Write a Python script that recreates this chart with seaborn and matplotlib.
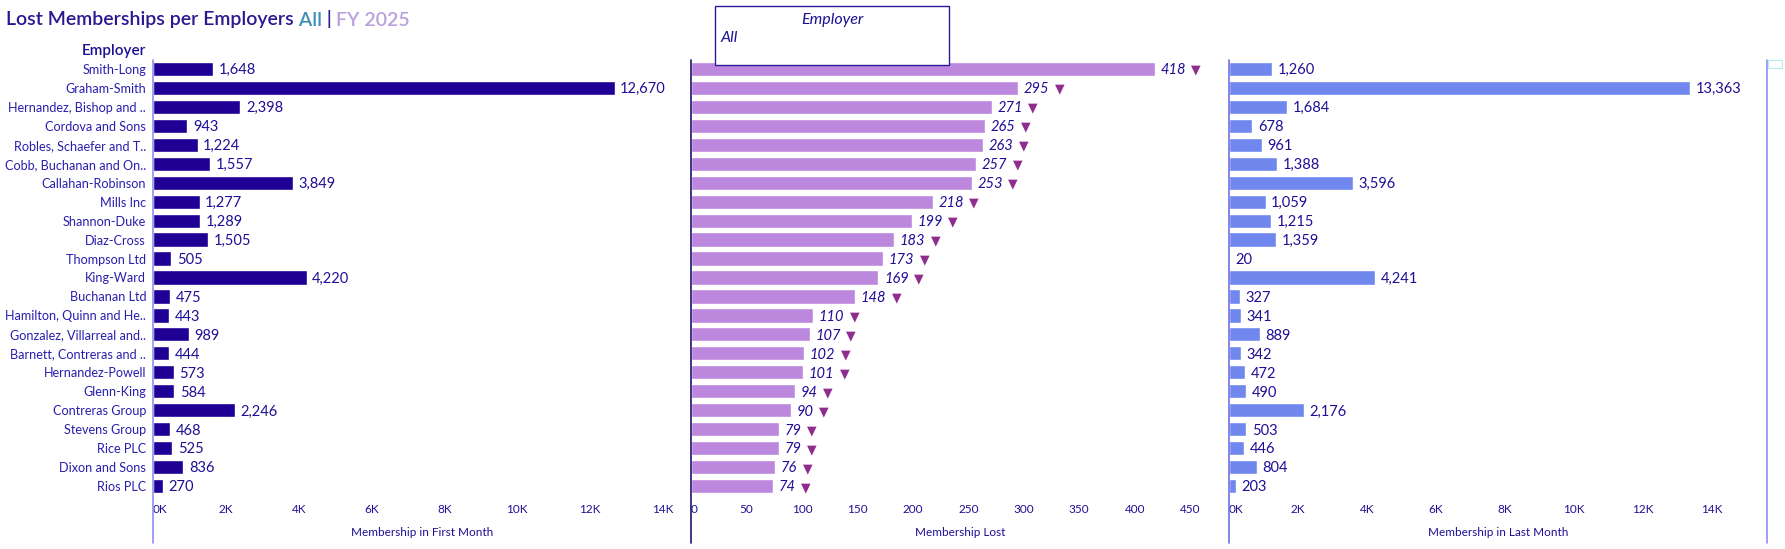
import pandas as pd
import seaborn as sns
import matplotlib
matplotlib.use("Agg")
import matplotlib.pyplot as plt
from matplotlib.lines import Line2D
from matplotlib.patches import Rectangle
from matplotlib.ticker import FixedLocator

sns.set_theme(style="white")
plt.rcParams['font.family'] = ['Lato', 'DejaVu Sans']

employers = [
    "Smith-Long", "Graham-Smith", "Hernandez, Bishop and ..", "Cordova and Sons",
    "Robles, Schaefer and T..", "Cobb, Buchanan and On..", "Callahan-Robinson",
    "Mills Inc", "Shannon-Duke", "Diaz-Cross", "Thompson Ltd", "King-Ward",
    "Buchanan Ltd", "Hamilton, Quinn and He..", "Gonzalez, Villarreal and..",
    "Barnett, Contreras and ..", "Hernandez-Powell", "Glenn-King", "Contreras Group",
    "Stevens Group", "Rice PLC", "Dixon and Sons", "Rios PLC",
]
first_month = [1648, 12670, 2398, 943, 1224, 1557, 3849, 1277, 1289, 1505, 505, 4220,
               475, 443, 989, 444, 573, 584, 2246, 468, 525, 836, 270]
lost = [418, 295, 271, 265, 263, 257, 253, 218, 199, 183, 173, 169,
        148, 110, 107, 102, 101, 94, 90, 79, 79, 76, 74]
last_month = [1260, 13363, 1684, 678, 961, 1388, 3596, 1059, 1215, 1359, 20, 4241,
              327, 341, 889, 342, 472, 490, 2176, 503, 446, 804, 203]

k_ticks = [0, 2000, 4000, 6000, 8000, 10000, 12000, 14000]
k_labels = ["0K", "2K", "4K", "6K", "8K", "10K", "12K", "14K"]
lost_ticks = [0, 50, 100, 150, 200, 250, 300, 350, 400, 450]

df = pd.DataFrame({"Employer": employers, "first": first_month,
                   "lost": lost, "last": last_month})

W, H = 1785, 549
TXT = "#1f0f95"
ROW_TXT = "#2a1eae"
fig = plt.figure(figsize=(W / 100, H / 100), dpi=100)


def px_axes(x0, x1, y0, y1):
    return fig.add_axes([x0 / W, 1 - y1 / H, (x1 - x0) / W, (y1 - y0) / H])


def fig_line(x, y0, y1, color):
    fig.add_artist(Line2D([x / W, x / W], [1 - y0 / H, 1 - y1 / H],
                          transform=fig.transFigure, color=color, lw=1.2))


top, bottom = 59.5, 495.5
panels = [
    ("first", 153, 691, 14770, "#1f0094", "Membership in First Month", k_ticks, k_labels),
    ("lost", 691, 1229, 485, "#bb88dd", "Membership Lost", lost_ticks, [str(t) for t in lost_ticks]),
    ("last", 1229, 1767, 15600, "#7087ee", "Membership in Last Month", k_ticks, k_labels),
]

axes = []
for col, x0, x1, xmax, color, xlabel, ticks, labels in panels:
    ax = px_axes(x0, x1, top, bottom)
    sns.barplot(data=df, y="Employer", x=col, color=color, width=0.75,
                orient="h", ax=ax, saturation=1)
    ax.set_xlim(0, xmax)
    ax.set_ylim(len(employers) - 0.5, -0.5)
    ax.xaxis.set_major_locator(FixedLocator(ticks))
    ax.set_xticklabels(labels)
    ax.get_xticklabels()[0].set_horizontalalignment("left")
    ax.tick_params(axis="x", length=0, pad=6, labelsize=8.5, labelcolor=TXT)
    ax.set_xlabel(xlabel, color=TXT, fontsize=8.5, labelpad=9)
    ax.set_ylabel("")
    for s in ax.spines.values():
        s.set_visible(False)
    ax.patch.set_alpha(0)
    axes.append(ax)

    for i, v in enumerate(df[col]):
        if col == "lost":
            t = ax.annotate(f"{v:,}", xy=(v, i), xytext=(4, -1), textcoords="offset points",
                            va="center", ha="left", fontsize=10.5, color=TXT,
                            fontstyle="italic")
            ax.annotate("\u25bc", xy=(1, 0.5), xycoords=t, xytext=(4, 0),
                        textcoords="offset points", va="center", ha="left",
                        fontsize=9, color="#8e2d8e", family=["DejaVu Sans"])
        else:
            ax.annotate(f"{v:,}", xy=(v, i), xytext=(4, -1), textcoords="offset points",
                        va="center", ha="left", fontsize=10.5, color=TXT)

axes[0].tick_params(axis="y", length=0, pad=5, labelsize=9.1, labelcolor=ROW_TXT)
for ax in axes[1:]:
    ax.set_yticks([])

# panel borders
fig_line(153, 60, 543, "#9090f0")
fig_line(691, 60, 543, "#1a1470")
fig_line(1229, 60, 543, "#6f6fe8")
fig_line(1767, 60, 543, "#9090f0")
fig.add_artist(Rectangle((1768 / W, 1 - 68 / H), 14 / W, 8 / H, transform=fig.transFigure,
                         facecolor="white", edgecolor="#b8ecf0", lw=0.8))

# header above employer labels
fig.text(146 / W, 1 - 51 / H, "Employer", ha="right", va="center",
         fontsize=11, color=TXT, fontweight="semibold")

# title made of coloured parts
t1 = fig.text(6 / W, 1 - 20 / H, "Lost Memberships per Employers", ha="left", va="center",
              fontsize=14, color="#2a1890", fontweight="semibold")
parts = [(" All", "#3f8fb8"), (" | ", "#2a1890"), ("FY 2025", "#b8a0dc")]
prev = t1
for txt, c in parts:
    prev = plt.annotate(txt, xy=(1, 0), xycoords=prev, xytext=(0, 0),
                        textcoords="offset points", va="bottom", ha="left",
                        fontsize=14, color=c, fontweight="semibold",
                        annotation_clip=False)

# filter box
fig.add_artist(Rectangle((715 / W, 1 - 65 / H), 234 / W, 59 / H, transform=fig.transFigure,
                         facecolor="white", edgecolor="#2a1a9a", lw=1.0, zorder=10))
fig.text(832 / W, 1 - 20 / H, "Employer", ha="center", va="center", fontsize=11.5,
         color=TXT, fontstyle="italic", zorder=11)
fig.text(721 / W, 1 - 38 / H, "All", ha="left", va="center", fontsize=11.5,
         color=TXT, fontstyle="italic", zorder=11)

plt.savefig("out.png", dpi=100)
plt.close()
